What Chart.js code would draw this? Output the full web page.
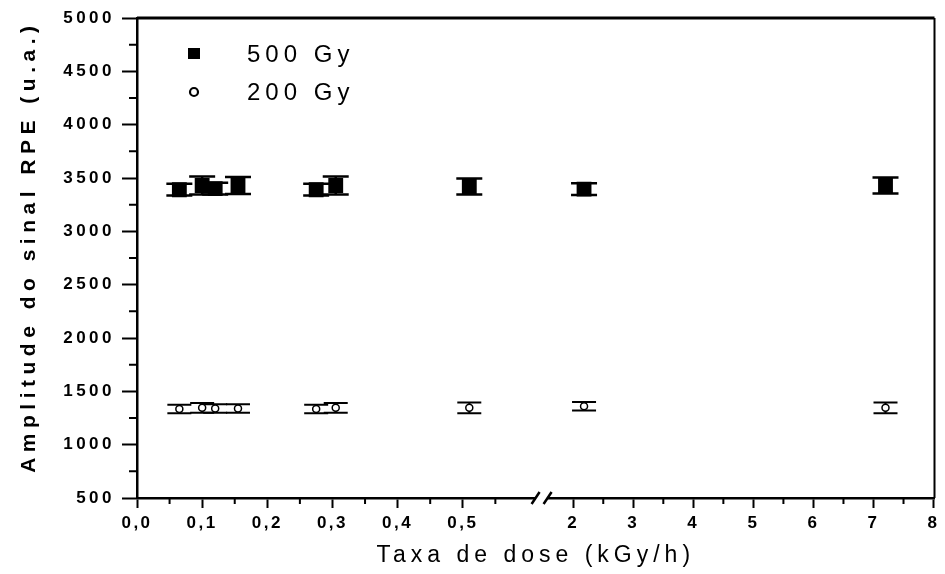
<!DOCTYPE html>
<html>
<head>
<meta charset="utf-8">
<script src="https://cdn.jsdelivr.net/npm/chart.js@4.4.0/dist/chart.umd.min.js"></script>
<style>
  html, body { margin: 0; padding: 0; background: #fff; }
  canvas { display: block; }
</style>
</head>
<body>
<canvas id="chart" width="945" height="574"></canvas>
<script>
// dose rates (kGy/h), same positions for both doses
const doseRate = [0.065, 0.10, 0.12, 0.155, 0.275, 0.305, 0.51, 2.18, 7.2];
const amp500 = [3390, 3430, 3400, 3430, 3390, 3430, 3420, 3395, 3430];
const err500 = [55, 85, 55, 80, 55, 85, 75, 55, 75];
const amp200 = [1335, 1345, 1340, 1340, 1335, 1345, 1345, 1360, 1345];
const err200 = [40, 45, 40, 40, 40, 45, 50, 40, 50];

const xTicks = [0, 0.1, 0.2, 0.3, 0.4, 0.5, 2, 3, 4, 5, 6, 7, 8];
const xTickLabels = ["0,0", "0,1", "0,2", "0,3", "0,4", "0,5", "2", "3", "4", "5", "6", "7", "8"];
const xMinor = [0.05, 0.15, 0.25, 0.35, 0.45, 0.55, 2.5, 3.5, 4.5, 5.5, 6.5, 7.5];
const yMinor = [750, 1250, 1750, 2250, 2750, 3250, 3750, 4250, 4750];

const FONT = "'Liberation Sans', Arial, sans-serif";
const BREAK_LO = 0.6;

// linear axis with a break between 0.6 and ~1.5 kGy/h
class BrokenLinear extends Chart.LinearScale {
  getPixelForValue(v) {
    const d = v <= BREAK_LO ? v * 0.817 : 0.547 + (v - 2) * 0.0753;
    return this.getPixelForDecimal(d);
  }
}
BrokenLinear.id = 'brokenLinear';
BrokenLinear.defaults = Chart.LinearScale.defaults;
Chart.register(BrokenLinear);

function spaced(scale, name, px) {
  const orig = scale[name];
  scale[name] = function (...args) {
    const ctx = this.ctx;
    ctx.save();
    ctx.letterSpacing = px;
    orig.apply(this, args);
    ctx.restore();
  };
}

const letterSpacing = {
  id: 'letterSpacing',
  afterLayout(chart) {
    const { x, y } = chart.scales;
    if (!x._spaced) {
      spaced(x, 'drawLabels', '2.5px');
      spaced(x, 'drawTitle', '5px');
      spaced(y, 'drawLabels', '3.5px');
      spaced(y, 'drawTitle', '5.5px');
      x._spaced = y._spaced = true;
    }
  }
};

const errorBars = {
  id: 'errorBars',
  beforeDatasetsDraw(chart) {
    const { ctx, scales: { x, y } } = chart;
    chart.data.datasets.forEach(ds => {
      ctx.save();
      ctx.strokeStyle = '#000';
      ctx.lineWidth = ds.barWidth;
      ds.data.forEach((p, i) => {
        const px = x.getPixelForValue(p.x);
        const top = y.getPixelForValue(p.y + ds.err[i]);
        const bot = y.getPixelForValue(p.y - ds.err[i]);
        ctx.beginPath();
        ctx.moveTo(px, top); ctx.lineTo(px, bot);
        ctx.moveTo(px - ds.cap, top); ctx.lineTo(px + ds.cap, top);
        ctx.moveTo(px - ds.cap, bot); ctx.lineTo(px + ds.cap, bot);
        ctx.stroke();
      });
      ctx.restore();
    });
  }
};

const frame = {
  id: 'frame',
  afterDraw(chart) {
    const { ctx, chartArea: a, scales: { x, y } } = chart;
    ctx.save();
    ctx.strokeStyle = '#000';
    // top and right border
    ctx.lineWidth = 3;
    ctx.beginPath(); ctx.moveTo(a.left, a.top); ctx.lineTo(a.right, a.top); ctx.stroke();
    ctx.lineWidth = 2;
    ctx.beginPath(); ctx.moveTo(a.right, a.top); ctx.lineTo(a.right, a.bottom); ctx.stroke();
    // minor ticks
    ctx.lineWidth = 2;
    ctx.beginPath();
    yMinor.forEach(v => {
      const py = y.getPixelForValue(v);
      ctx.moveTo(a.left - 8, py); ctx.lineTo(a.left, py);
    });
    xMinor.forEach(v => {
      const px = x.getPixelForValue(v);
      ctx.moveTo(px, a.bottom); ctx.lineTo(px, a.bottom + 6);
    });
    ctx.stroke();
    // axis break
    const bx = (x.getPixelForValue(BREAK_LO) + x.getPixelForValue(2)) / 2 - 9;
    ctx.fillStyle = '#fff';
    ctx.fillRect(bx - 6, a.bottom - 3, 12, 6);
    ctx.lineWidth = 2.5;
    ctx.beginPath();
    ctx.moveTo(bx - 10, a.bottom + 6); ctx.lineTo(bx - 2, a.bottom - 6);
    ctx.moveTo(bx + 2, a.bottom + 6); ctx.lineTo(bx + 10, a.bottom - 6);
    ctx.stroke();
    // legend
    ctx.fillStyle = '#000';
    ctx.fillRect(188, 48, 12, 11);
    ctx.lineWidth = 2.2;
    ctx.beginPath(); ctx.arc(194, 92, 4, 0, Math.PI * 2); ctx.stroke();
    ctx.font = '24px ' + FONT;
    ctx.letterSpacing = '5px';
    ctx.textBaseline = 'middle';
    ctx.fillText(chart.data.datasets[0].label, 247, 55);
    ctx.fillText(chart.data.datasets[1].label, 247, 93);
    ctx.restore();
  }
};

new Chart(document.getElementById('chart'), {
  type: 'scatter',
  data: {
    datasets: [{
      label: '500 Gy',
      data: doseRate.map((v, i) => ({ x: v, y: amp500[i] })),
      err: err500,
      cap: 13,
      barWidth: 2.5,
      pointStyle: 'rect',
      pointRadius: 10.5,
      backgroundColor: '#000',
      borderColor: '#000',
      borderWidth: 0
    }, {
      label: '200 Gy',
      data: doseRate.map((v, i) => ({ x: v, y: amp200[i] })),
      err: err200,
      cap: 12,
      barWidth: 2,
      pointStyle: 'circle',
      pointRadius: 3.5,
      backgroundColor: '#fff',
      borderColor: '#000',
      borderWidth: 1.5
    }]
  },
  options: {
    responsive: false,
    animation: false,
    devicePixelRatio: 1,
    layout: { padding: { top: 18, right: 9, left: 0, bottom: 0 } },
    plugins: { legend: { display: false }, tooltip: { enabled: false } },
    scales: {
      x: {
        type: 'brokenLinear',
        min: 0,
        max: 8,
        afterBuildTicks: s => { s.ticks = xTicks.map(v => ({ value: v })); },
        afterFit: s => { s.height = 76; },
        border: { display: true, color: '#000', width: 2.5 },
        grid: { drawOnChartArea: false, drawTicks: true, tickLength: 10, tickWidth: 2, tickColor: '#000' },
        ticks: {
          autoSkip: false,
          maxRotation: 0,
          padding: 5,
          color: '#000',
          font: { family: FONT, size: 17, weight: 'bold' },
          callback: (v, i) => xTickLabels[i]
        },
        title: {
          display: true,
          text: 'Taxa de dose (kGy/h)',
          color: '#000',
          font: { family: FONT, size: 23 },
          padding: { top: 0, bottom: 5 }
        }
      },
      y: {
        min: 500,
        max: 5000,
        afterFit: s => { s.width = 137; },
        border: { display: true, color: '#000', width: 2.5 },
        grid: { drawOnChartArea: false, drawTicks: true, tickLength: 15, tickWidth: 2, tickColor: '#000' },
        ticks: {
          stepSize: 500,
          padding: 7,
          color: '#000',
          font: { family: FONT, size: 17, weight: 'bold' },
          callback: v => String(v)
        },
        title: {
          display: true,
          text: '  Amplitude do sinal RPE (u.a.)',
          color: '#000',
          font: { family: FONT, size: 21, weight: 'bold' },
          padding: { top: 17, bottom: 0 }
        }
      }
    }
  },
  plugins: [letterSpacing, errorBars, frame]
});
</script>
</body>
</html>
